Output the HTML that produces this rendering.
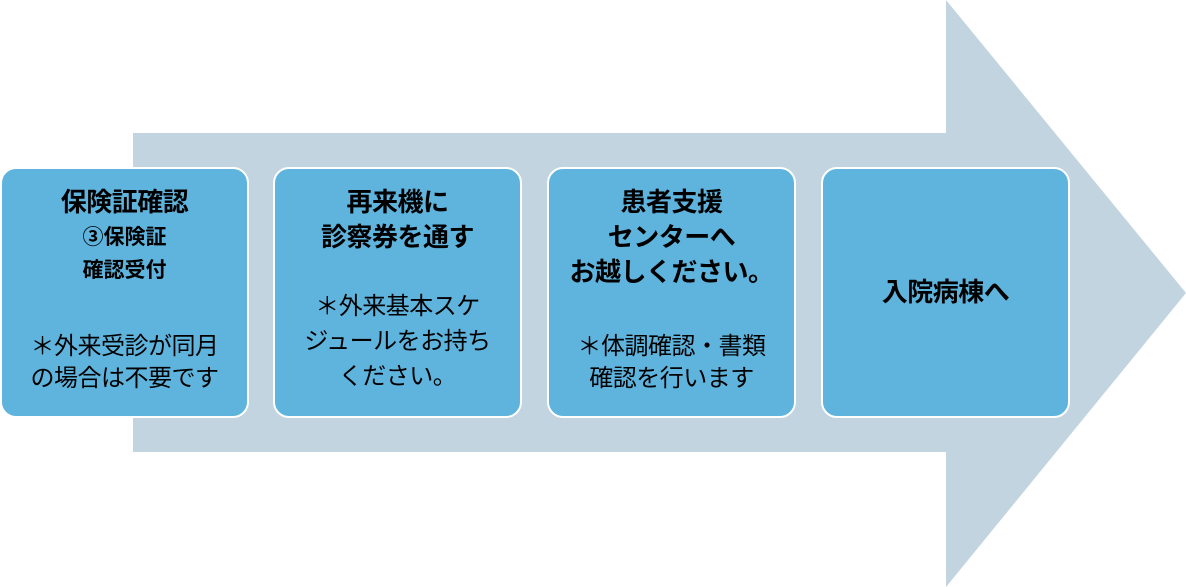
<!DOCTYPE html>
<html><head><meta charset="utf-8"><style>
body{margin:0;width:1186px;height:587px;background:#fff;position:relative;overflow:hidden;font-family:"Liberation Sans","Noto Sans CJK JP",sans-serif;}
.box{position:absolute;top:167px;width:249px;height:251px;background:#5fb4de;border:2px solid #fff;border-radius:16px;box-sizing:border-box;}
.t{position:absolute;left:0;width:100%;text-align:center;color:#000;line-height:1;white-space:nowrap;}
.b{font-weight:bold;font-size:26px;letter-spacing:-0.5px;}
.s{font-weight:bold;font-size:21px;}
.n{font-size:24px;letter-spacing:-0.5px;}
</style></head><body>
<svg width="1186" height="587" style="position:absolute;left:0;top:0">
<polygon points="133,133 946,133 946,0 1186,293 946,587 946,452 133,452" fill="#c1d4e0"/>
</svg>
<div class="box" style="left:0px">
<div class="t b" style="top:20px">保険証確認</div>
<div class="t s" style="top:58px">③保険証</div>
<div class="t s" style="top:91px">確認受付</div>
<div class="t n" style="top:166px">＊外来受診が同月</div>
<div class="t n" style="top:198px">の場合は不要です</div>
</div>
<div class="box" style="left:273px">
<div class="t b" style="top:20px">再来機に</div>
<div class="t b" style="top:55px">診察券を通す</div>
<div class="t n" style="top:126px">＊外来基本スケ</div>
<div class="t n" style="top:161px">ジュールをお持ち</div>
<div class="t n" style="top:196px">ください。</div>
</div>
<div class="box" style="left:547px">
<div class="t b" style="top:20px">患者支援</div>
<div class="t b" style="top:55px">センターへ</div>
<div class="t b" style="top:90px">お越しください。</div>
<div class="t n" style="top:166px">＊体調確認・書類</div>
<div class="t n" style="top:198px">確認を行います</div>
</div>
<div class="box" style="left:821px">
<div class="t b" style="top:110px">入院病棟へ</div>
</div>
</body></html>
